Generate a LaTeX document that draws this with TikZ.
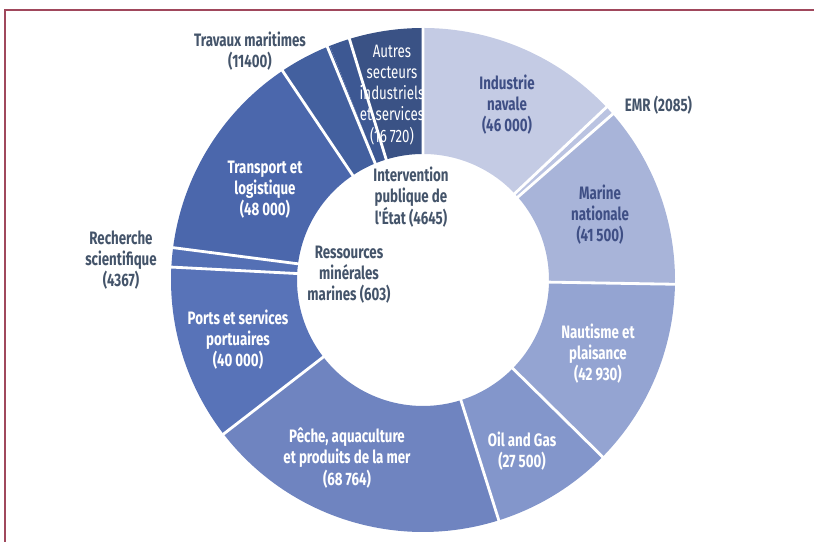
\documentclass[tikz,border=0pt]{standalone}
\usepackage{fontspec}
\setmainfont{Fira Sans}[FakeStretch=0.74,Ligatures=TeXOff]
\definecolor{frameRed}{HTML}{A0485C}
\definecolor{labGray}{HTML}{44546A}
\definecolor{labBlue}{HTML}{3F4F85}
\definecolor{cIndus}{HTML}{C4CBE4}
\definecolor{cEmr}{HTML}{BAC3E1}
\definecolor{cMarine}{HTML}{A8B4D9}
\definecolor{cNaut}{HTML}{94A4D2}
\definecolor{cOil}{HTML}{8396CB}
\definecolor{cPeche}{HTML}{6F84C0}
\definecolor{cPorts}{HTML}{5873B8}
\definecolor{cRech}{HTML}{5470B5}
\definecolor{cTransp}{HTML}{4B67AC}
\definecolor{cTrav}{HTML}{43609F}
\definecolor{cRess}{HTML}{405C9A}
\definecolor{cInterv}{HTML}{3D5893}
\definecolor{cAutres}{HTML}{3A5285}
\begin{document}
\begin{tikzpicture}[
  outlab/.style={align=center,font=\bfseries\fontsize{12.8}{15}\selectfont,text=labGray},
  inlab/.style={outlab,text=white},
  darklab/.style={outlab,text=labBlue},
  sep/.style={white,line width=2pt}]
\useasboundingbox (0,0) rectangle (20.35,13.55);
\draw[frameRed,line width=1.2pt] (0.125,0)--(0.125,13.3)--(20.35,13.3);
\begin{scope}[shift={(10.575,6.55)}]
\fill[cIndus] (90:6.3) arc (90:43.288:6.3)--(43.288:3.15) arc (43.288:90:3.15)--cycle;
\fill[cEmr] (43.288:6.3) arc (43.288:41.171:6.3)--(41.171:3.15) arc (41.171:43.288:3.15)--cycle;
\fill[cMarine] (41.171:6.3) arc (41.171:-0.971:6.3)--(-0.971:3.15) arc (-0.971:41.171:3.15)--cycle;
\fill[cNaut] (-0.971:6.3) arc (-0.971:-44.565:6.3)--(-44.565:3.15) arc (-44.565:-0.971:3.15)--cycle;
\fill[cOil] (-44.565:6.3) arc (-44.565:-72.491:6.3)--(-72.491:3.15) arc (-72.491:-44.565:3.15)--cycle;
\fill[cPeche] (-72.491:6.3) arc (-72.491:-142.319:6.3)--(-142.319:3.15) arc (-142.319:-72.491:3.15)--cycle;
\fill[cPorts] (-142.319:6.3) arc (-142.319:-182.938:6.3)--(-182.938:3.15) arc (-182.938:-142.319:3.15)--cycle;
\fill[cRech] (-182.938:6.3) arc (-182.938:-187.373:6.3)--(-187.373:3.15) arc (-187.373:-182.938:3.15)--cycle;
\fill[cTransp] (-187.373:6.3) arc (-187.373:-236.116:6.3)--(-236.116:3.15) arc (-236.116:-187.373:3.15)--cycle;
\fill[cTrav] (-236.116:6.3) arc (-236.116:-247.692:6.3)--(-247.692:3.15) arc (-247.692:-236.116:3.15)--cycle;
\fill[cRess] (-247.692:6.3) arc (-247.692:-248.304:6.3)--(-248.304:3.15) arc (-248.304:-247.692:3.15)--cycle;
\fill[cInterv] (-248.304:6.3) arc (-248.304:-253.021:6.3)--(-253.021:3.15) arc (-253.021:-248.304:3.15)--cycle;
\fill[cAutres] (-253.021:6.3) arc (-253.021:-270:6.3)--(-270:3.15) arc (-270:-253.021:3.15)--cycle;
% white gaps between the slices
\draw[sep] (90:3.1)--(90:6.35) (43.288:3.1)--(43.288:6.35) (41.171:3.1)--(41.171:6.35)
  (-0.971:3.1)--(-0.971:6.35) (-44.565:3.1)--(-44.565:6.35) (-72.491:3.1)--(-72.491:6.35)
  (-142.319:3.1)--(-142.319:6.35) (-182.938:3.1)--(-182.938:6.35) (-187.373:3.1)--(-187.373:6.35)
  (-236.116:3.1)--(-236.116:6.35) (-247.692:3.1)--(-247.692:6.35) (-253.021:3.1)--(-253.021:6.35);
\end{scope}
\node[darklab] (indus) at (12.675,10.925) {Industrie\\navale\\(46\,000)};
\node[outlab,anchor=west] (emr) at (15.5,10.925) {EMR (2085)};
\node[darklab] (marine) at (15.0,8.175) {Marine\\nationale\\(41\,500)};
\node[inlab] (naut) at (14.95,4.7) {Nautisme et\\plaisance\\(42\,930)};
\node[inlab] (oil) at (13.05,2.275) {Oil and Gas\\(27\,500)};
\node[inlab] (peche) at (8.675,2.1) {Pêche, aquaculture\\et produits de la mer\\(68\,764)};
\node[inlab] (ports) at (5.95,5.05) {Ports et services\\portuaires\\(40\,000)};
\node[outlab] (rech) at (3.025,7.05) {Recherche\\scientifique\\(4367)};
\node[inlab] (transp) at (6.625,8.8) {Transport et\\logistique\\(48\,000)};
\node[outlab] (trav) at (6.25,12.275) {Travaux maritimes\\(11400)};
\node[inlab,font=\fontsize{12.8}{15}\selectfont] (autres) at (9.8,11.175) {Autres\\secteurs\\industriels\\et services\\(16\,720)};
\node[outlab] (interv) at (10.275,8.625) {Intervention\\publique de\\l'État (4645)};
\node[outlab] (ress) at (8.725,6.675) {Ressources\\minérales\\marines (603)};
\end{tikzpicture}
\end{document}
